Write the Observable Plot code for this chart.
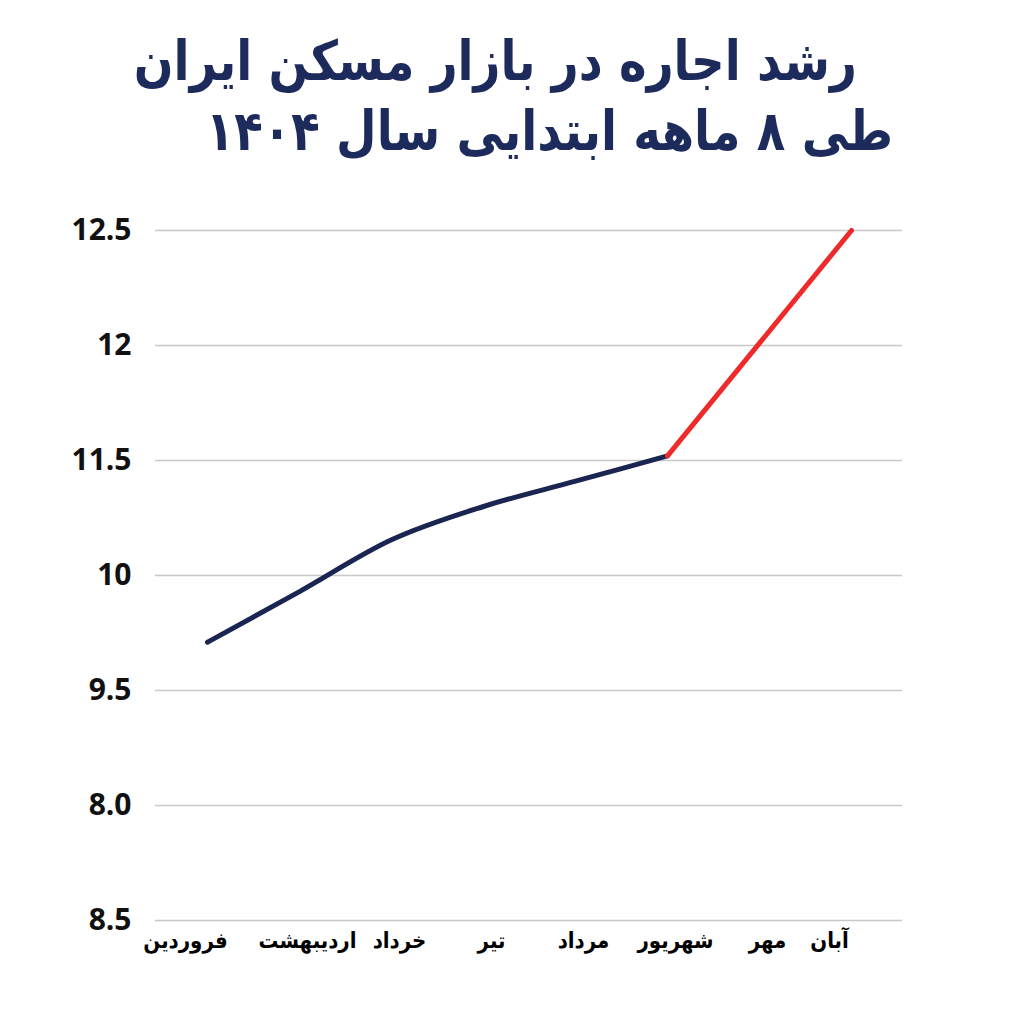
<!DOCTYPE html>
<html>
<head>
<meta charset="utf-8">
<script src="https://cdn.jsdelivr.net/npm/d3@7"></script>
<script src="https://cdn.jsdelivr.net/npm/@observablehq/plot@0.6"></script>
<style>
  html, body { margin: 0; padding: 0; background: #fff; }
  body { width: 1024px; height: 1024px; overflow: hidden; }
  #title { height: 200px; box-sizing: border-box; padding-top: 26px; font-family: "DejaVu Sans", sans-serif; font-weight: bold; color: #1c2a5c; direction: rtl; }
  #title div { font-size: 55px; line-height: 70px; white-space: nowrap; transform: scaleX(0.85); }
  #t1 { margin-right: 167px; transform-origin: right center; }
  #t2 { margin-right: 131px; transform-origin: right center; }
</style>
</head>
<body>
<div id="title">
  <div id="t1">رشد اجاره در بازار مسکن ایران</div>
  <div id="t2">طی ۸ ماهه ابتدایی سال ۱۴۰۴</div>
</div>
<div id="chart"></div>
<script>
const months = ["فروردین", "اردیبهشت", "خرداد", "تیر", "مرداد", "شهریور", "مهر", "آبان"];
// values in grid-step units (0 = bottom gridline ... 6 = top gridline)
const values = [2.42, 2.86, 3.31, 3.60, 3.82, 4.04, 5.02, 6.0];
const yTickLabels = ["8.5", "8.0", "9.5", "10", "11.5", "12", "12.5"];
const splitIndex = 5; // blue up to شهریور, red after

const data = months.map((m, i) => ({month: m, value: values[i], i}));
const blue = data.filter(d => d.i <= splitIndex);
const red = data.filter(d => d.i >= splitIndex);
const yTicks = yTickLabels.map((_, i) => i);
const xAxisStyle = {tickSize: 0, tickPadding: 12, fontSize: 22, fontWeight: "bold", fill: "#000", label: null,
  fontFamily: "DejaVu Sans Condensed, DejaVu Sans, sans-serif"};

const chart = Plot.plot({
  width: 1024,
  height: 790,
  marginTop: 30,
  marginBottom: 70,
  marginLeft: 155,
  marginRight: 122,
  style: {fontFamily: "DejaVu Sans, sans-serif", background: "#fff"},
  x: {type: "point", domain: months, padding: 0.55, label: null},
  y: {domain: [0, 6], label: null},
  marks: [
    Plot.gridY(yTicks, {stroke: "#c8c8c8", strokeOpacity: 1, strokeWidth: 1.5}),
    Plot.axisY(yTicks, {tickSize: 0, tickPadding: 24, fontSize: 30, fontWeight: "bold", fill: "#111",
      tickFormat: d => yTickLabels[d], fontFamily: "Open Sans, sans-serif", label: null}),
    Plot.axisX(months.slice(0, 1), {...xAxisStyle, dx: -22}),
    Plot.axisX(months.slice(1, 7), {...xAxisStyle, dx: 8}),
    Plot.axisX(months.slice(7), {...xAxisStyle, dx: -22}),
    Plot.line(blue, {x: "month", y: "value", stroke: "#1b2552", strokeWidth: 5, curve: "monotone-x"}),
    Plot.line(red, {x: "month", y: "value", stroke: "#ee2a2a", strokeWidth: 5, curve: "linear"})
  ]
});
document.getElementById("chart").appendChild(chart);
</script>
</body>
</html>
